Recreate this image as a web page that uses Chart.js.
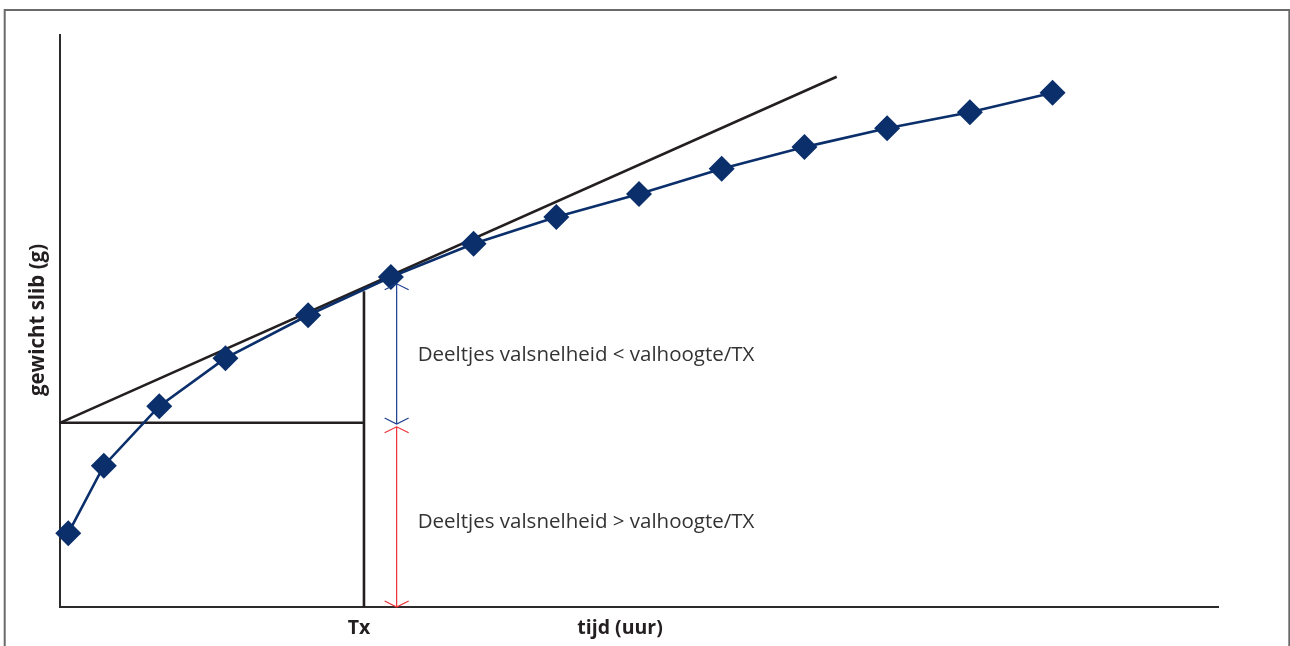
<!DOCTYPE html>
<html><head><meta charset="utf-8">
<script src="https://cdn.jsdelivr.net/npm/chart.js@4.4.1/dist/chart.umd.min.js"></script>
<style>html,body{margin:0;padding:0;background:#fff;}canvas{display:block;}</style>
</head><body>
<canvas id="c" width="1290" height="646"></canvas>
<script>
// Bezinkproef: cumulatief gewicht slib tegen de tijd
const tijd = [0.1, 0.53, 1.2, 2.0, 3.0, 4.0, 5.0, 6.0, 7.0, 8.0, 9.0, 10.0, 11.0, 12.0];
const gewicht = [12.9, 24.7, 35.1, 43.5, 51.0, 57.7, 63.5, 68.2, 72.2, 76.6, 80.4, 83.7, 86.5, 89.9];
// raaklijn aan de curve bij Tx
const raaklijnX = [0, 9.39];
const raaklijnY = [32.2, 92.7];
// hulplijnen bij Tx
const tx = 3.675;
const snijpuntY = 32.2;
const txTopY = 55.2;
// pijlen met de twee fracties
const pijlX = 4.07;
const pijlBlauw = [56.5, 32.0];
const pijlRood = [31.5, 0];
const asX = [0, 14];
const asY = [0, 100];
const labels = {
  y: 'gewicht slib (g)',
  x: 'tijd (uur)',
  tx: 'Tx',
  boven: 'Deeltjes valsnelheid < valhoogte/TX',
  onder: 'Deeltjes valsnelheid > valhoogte/TX'
};

const navy = '#0a2f6b';
const ink = '#231f20';
const blauw = '#1b3f8f';
const rood = '#ec2f37';

const pts = (xs, ys) => xs.map((x, i) => ({x, y: ys[i]}));

const decor = {
  id: 'decor',
  beforeDraw(chart) {
    const ctx = chart.ctx;
    ctx.save();
    ctx.fillStyle = '#fff';
    ctx.fillRect(0, 0, chart.width, chart.height);
    ctx.strokeStyle = '#6a6a6a';
    ctx.lineWidth = 2;
    ctx.strokeRect(4.7, 10, 1284.6, 700);
    ctx.restore();
  },
  afterDatasetsDraw(chart) {
    const ctx = chart.ctx;
    const xs = chart.scales.x, ys = chart.scales.y;
    const px = xs.getPixelForValue(pijlX);
    const head = (x, y, dir, col) => {
      ctx.strokeStyle = col;
      ctx.lineWidth = 1.2;
      ctx.beginPath();
      ctx.moveTo(x - 12, y + dir * 6);
      ctx.lineTo(x, y);
      ctx.lineTo(x + 12, y + dir * 6);
      ctx.stroke();
    };
    ctx.save();
    head(px, ys.getPixelForValue(pijlBlauw[0]), 1, blauw);
    head(px, ys.getPixelForValue(pijlBlauw[1]), -1, blauw);
    head(px, ys.getPixelForValue(pijlRood[0]), 1, rood);
    head(px, ys.getPixelForValue(pijlRood[1]), -1, rood);

    ctx.fillStyle = '#333';
    ctx.font = '20.5px "Open Sans"';
    ctx.textAlign = 'left';
    ctx.textBaseline = 'alphabetic';
    ctx.fillText(labels.boven, px + 21, 361);
    ctx.fillText(labels.onder, px + 21, 528);

    ctx.fillStyle = ink;
    ctx.font = 'bold 19.5px "Open Sans"';
    ctx.textAlign = 'center';
    ctx.fillText(labels.tx, xs.getPixelForValue(tx) - 5, 634);
    ctx.fillText(labels.x, 620, 634);
    ctx.translate(38, 320);
    ctx.rotate(-Math.PI / 2);
    ctx.textBaseline = 'middle';
    ctx.font = 'bold 20.5px "Open Sans"';
    ctx.fillText(labels.y, 0, 0);
    ctx.restore();
  }
};

const zwart = (data, extra) => Object.assign({
  data, borderColor: ink, borderWidth: 2.6, pointRadius: 0, showLine: true,
  tension: 0, order: 2, clip: false
}, extra || {});

new Chart(document.getElementById('c'), {
  type: 'scatter',
  data: {
    datasets: [
      {
        data: pts(tijd, gewicht), showLine: true, tension: 0,
        borderColor: navy, borderWidth: 2.6,
        pointStyle: 'rectRot', pointRadius: 13, pointHoverRadius: 13,
        pointBackgroundColor: navy, pointBorderColor: navy, pointBorderWidth: 0,
        order: 0, clip: false
      },
      zwart(pts(raaklijnX, raaklijnY)),
      zwart([{x: asX[0], y: snijpuntY}, {x: tx, y: snijpuntY}]),
      zwart([{x: tx, y: asY[0]}, {x: tx, y: txTopY}]),
      {
        data: [{x: pijlX, y: pijlBlauw[0]}, {x: pijlX, y: pijlBlauw[1]}], showLine: true,
        borderColor: blauw, borderWidth: 1.2, pointRadius: 0, order: 3, clip: false
      },
      {
        data: [{x: pijlX, y: pijlRood[0]}, {x: pijlX, y: pijlRood[1]}], showLine: true,
        borderColor: rood, borderWidth: 1.2, pointRadius: 0, order: 3, clip: false
      }
    ]
  },
  options: {
    responsive: false,
    devicePixelRatio: 1,
    animation: false,
    events: [],
    layout: {padding: {left: 52, top: 35, right: 72, bottom: 31}},
    plugins: {legend: {display: false}, tooltip: {enabled: false}},
    scales: {
      x: {
        type: 'linear', min: asX[0], max: asX[1],
        ticks: {display: false}, grid: {display: false},
        border: {display: true, color: '#2b2b2b', width: 2}
      },
      y: {
        type: 'linear', min: asY[0], max: asY[1],
        ticks: {display: false}, grid: {display: false},
        border: {display: true, color: '#2b2b2b', width: 2}
      }
    }
  },
  plugins: [decor]
});
</script>
</body></html>
